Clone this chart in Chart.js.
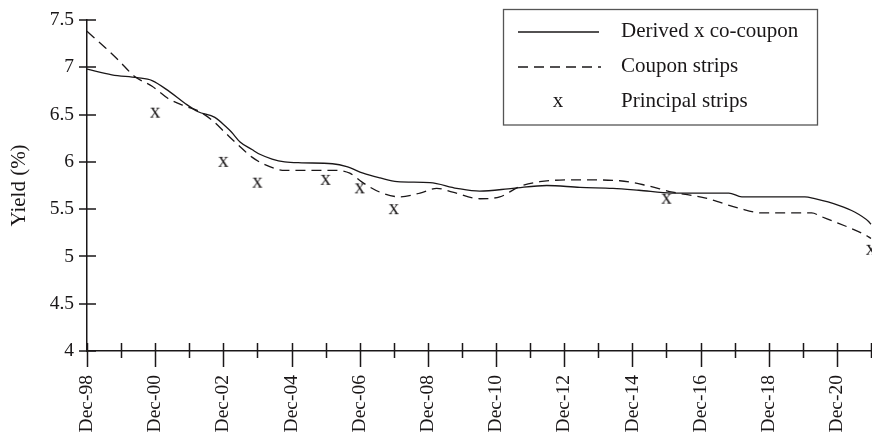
<!DOCTYPE html>
<html>
<head>
<meta charset="utf-8">
<script src="https://cdn.jsdelivr.net/npm/chart.js@4/dist/chart.umd.min.js"></script>
<style>
  html, body { margin: 0; padding: 0; background: #ffffff; }
  canvas { display: block; }
</style>
</head>
<body>
<canvas id="yieldChart" width="872" height="436"></canvas>
<script>
// Time is measured in years from Dec-1998.
const derivedYears = [0, 0.73, 1.47, 1.91, 2.43, 2.87, 3.26, 3.75, 4.11, 4.25, 4.49, 4.84, 5.07, 5.43, 5.8, 6.3,
  7.2, 7.62, 8.1, 8.6, 9.1, 10.06, 10.85, 11.52, 12.49, 13.49, 14.46, 15.43, 16.19, 17.16, 18.83, 19.21,
  21.06, 21.35, 22.05, 22.52, 22.93, 23];
const derivedYield = [6.98, 6.92, 6.89, 6.86, 6.74, 6.62, 6.53, 6.47, 6.36, 6.31, 6.21, 6.13, 6.08, 6.03, 6.00, 5.99,
  5.98, 5.95, 5.88, 5.83, 5.79, 5.78, 5.72, 5.69, 5.72, 5.75, 5.73, 5.72, 5.70, 5.67, 5.67, 5.63,
  5.63, 5.61, 5.54, 5.47, 5.37, 5.34];

const couponYears = [0, 0.53, 0.91, 1.41, 1.91, 2.38, 2.87, 3.26, 3.67, 4.05, 4.43, 4.84, 5.22, 5.81, 6.63, 7.33,
  7.71, 8.09, 8.59, 9.18, 9.77, 10.26, 10.73, 11.52, 12.11, 12.7, 13.28, 14.46, 15.63, 16.42, 17.18, 18.12,
  19.12, 19.79, 21.26, 21.55, 22.05, 22.82, 23];
const couponYield = [7.38, 7.21, 7.08, 6.90, 6.80, 6.67, 6.59, 6.54, 6.44, 6.31, 6.18, 6.05, 5.97, 5.91, 5.91, 5.91,
  5.88, 5.78, 5.68, 5.63, 5.67, 5.72, 5.68, 5.61, 5.63, 5.74, 5.79, 5.81, 5.80, 5.75, 5.68, 5.62,
  5.51, 5.46, 5.46, 5.42, 5.35, 5.23, 5.19];

const principalYears = [2, 4, 5, 7, 8, 9, 17, 23];
const principalYield = [6.52, 6.00, 5.78, 5.81, 5.72, 5.50, 5.61, 5.07];

const xTickLabels = ['Dec-98', 'Dec-00', 'Dec-02', 'Dec-04', 'Dec-06', 'Dec-08',
  'Dec-10', 'Dec-12', 'Dec-14', 'Dec-16', 'Dec-18', 'Dec-20'];
const yTickLabels = ['4', '4.5', '5', '5.5', '6', '6.5', '7', '7.5'];
const seriesNames = ['Derived x co-coupon', 'Coupon strips', 'Principal strips'];
const yAxisTitle = 'Yield (%)';

const INK = '#1a1718';
const SERIF = '"Liberation Serif", "Times New Roman", serif';

// Small canvas holding a typographic "x", used as the point marker.
function makeXMarker() {
  const c = document.createElement('canvas');
  c.width = 16; c.height = 16;
  const g = c.getContext('2d');
  g.fillStyle = INK;
  g.font = '21px ' + SERIF;
  g.textAlign = 'center';
  g.textBaseline = 'alphabetic';
  g.fillText('x', 8, 12.8);
  return c;
}
const xMarker = makeXMarker();

const toPoints = (xs, ys) => xs.map((x, i) => ({ x: x, y: ys[i] }));

// Tick marks that cross the axes, plus the boxed legend.
const axisDecor = {
  id: 'axisDecor',
  afterDraw(chart) {
    const ctx = chart.ctx;
    const xs = chart.scales.x, ys = chart.scales.y;
    const axisY = ys.getPixelForValue(4);
    const axisX = xs.getPixelForValue(0);
    ctx.save();
    ctx.strokeStyle = INK;
    ctx.lineWidth = 1.5;
    ctx.beginPath();
    xs.ticks.forEach(t => {
      const px = Math.round(xs.getPixelForValue(t.value)) + 0.5;
      const major = Math.round(t.value) % 2 === 0;
      ctx.moveTo(px, axisY - 8);
      ctx.lineTo(px, axisY + (major ? 16 : 7));
    });
    ys.ticks.forEach(t => {
      const py = Math.round(ys.getPixelForValue(t.value));
      ctx.moveTo(axisX - 8, py);
      ctx.lineTo(axisX + 9, py);
    });
    ctx.stroke();

    // Legend box
    ctx.strokeStyle = '#555555';
    ctx.lineWidth = 1.3;
    ctx.strokeRect(503.5, 9.5, 314, 115.5);

    const ds = chart.data.datasets;
    const rows = [32, 67, 102];
    ctx.lineWidth = ds[0].borderWidth;
    ctx.strokeStyle = ds[0].borderColor;
    ctx.setLineDash([]);
    ctx.beginPath(); ctx.moveTo(518, rows[0]); ctx.lineTo(599, rows[0]); ctx.stroke();
    ctx.strokeStyle = ds[1].borderColor;
    ctx.setLineDash(ds[1].borderDash);
    ctx.beginPath(); ctx.moveTo(518, rows[1]); ctx.lineTo(601, rows[1]); ctx.stroke();
    ctx.setLineDash([]);
    ctx.drawImage(xMarker, 558 - xMarker.width / 2, rows[2] - xMarker.height / 2);

    ctx.fillStyle = INK;
    ctx.font = '21px ' + SERIF;
    ctx.textAlign = 'left';
    ctx.textBaseline = 'alphabetic';
    seriesNames.forEach((name, i) => ctx.fillText(name, 621, rows[i] + 5));
    ctx.restore();
  }
};

new Chart(document.getElementById('yieldChart'), {
  type: 'line',
  data: {
    datasets: [
      {
        label: seriesNames[0],
        data: toPoints(derivedYears, derivedYield),
        borderColor: INK,
        borderWidth: 1.3,
        pointRadius: 0,
        cubicInterpolationMode: 'monotone',
        fill: false,
        clip: false
      },
      {
        label: seriesNames[1],
        data: toPoints(couponYears, couponYield),
        borderColor: INK,
        borderWidth: 1.3,
        borderDash: [10, 6],
        pointRadius: 0,
        cubicInterpolationMode: 'monotone',
        fill: false,
        clip: false
      },
      {
        label: seriesNames[2],
        data: toPoints(principalYears, principalYield),
        showLine: false,
        pointStyle: xMarker,
        pointRadius: 6,
        clip: false
      }
    ]
  },
  options: {
    responsive: false,
    animation: false,
    events: [],
    layout: { autoPadding: false, padding: { top: 20, right: 1, left: 0, bottom: 0 } },
    plugins: {
      legend: { display: false },
      tooltip: { enabled: false }
    },
    scales: {
      x: {
        type: 'linear',
        min: 0,
        max: 23,
        grid: { drawOnChartArea: false, drawTicks: false },
        border: { display: true, color: INK, width: 1.5 },
        ticks: {
          stepSize: 1,
          autoSkip: false,
          minRotation: 90,
          maxRotation: 90,
          padding: 24,
          color: INK,
          font: { family: SERIF, size: 19.5 },
          callback: v => (Math.round(v) % 2 === 0 ? xTickLabels[Math.round(v) / 2] : '')
        },
        afterFit: s => { s.height = 85; s.paddingLeft = 0; s.paddingRight = 0; }
      },
      y: {
        min: 4,
        max: 7.5,
        grid: { drawOnChartArea: false, drawTicks: false },
        border: { display: true, color: INK, width: 1.5 },
        ticks: {
          stepSize: 0.5,
          padding: 13,
          color: INK,
          font: { family: SERIF, size: 19.5 },
          callback: v => yTickLabels[Math.round((v - 4) * 2)]
        },
        title: {
          display: true,
          text: yAxisTitle,
          color: INK,
          font: { family: SERIF, size: 21 },
          padding: { top: 7, bottom: 0 }
        },
        afterFit: s => { s.width = 87; s.paddingTop = 0; s.paddingBottom = 0; }
      }
    }
  },
  plugins: [axisDecor]
});
</script>
</body>
</html>
